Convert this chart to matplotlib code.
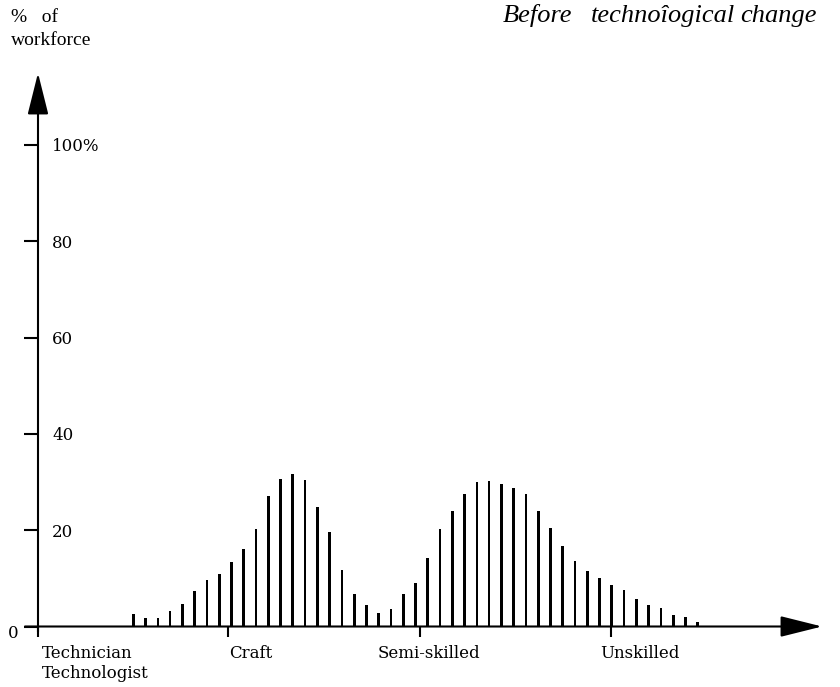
import matplotlib
matplotlib.use("Agg")
import matplotlib.pyplot as plt
import numpy as np

# share of workforce at each skill step, left (technician) to right (unskilled)
workforce_pct = [2.6, 1.7, 1.7, 3.3, 4.6, 7.3, 9.7, 10.8, 13.3, 16.0,
                 20.2, 27.0, 30.6, 31.6, 30.4, 24.9, 19.6, 11.8, 6.8, 4.4,
                 2.8, 3.6, 6.8, 9.1, 14.2, 20.2, 24.0, 27.5, 30.1, 30.2,
                 29.5, 28.8, 27.5, 24.0, 20.5, 16.8, 13.6, 11.5, 10.0, 8.6,
                 7.6, 5.8, 4.5, 3.8, 2.3, 1.9, 1.0]
skill_steps = np.arange(len(workforce_pct))

categories = ["Technician\nTechnologist", "Craft", "Semi-skilled", "Unskilled"]
category_ticks = [-7.77, 7.72, 23.4, 38.9]
y_ticks = [0, 20, 40, 60, 80, 100]
y_ticklabels = ["", "20", "40", "60", "80", "100%"]

W, H = 840, 687
fig = plt.figure(figsize=(W / 100, H / 100), dpi=100)
# axes box: y axis at x=38px, x axis at y=626.5px, arrow tips at 822px / 73px
ax = fig.add_axes([38 / W, (H - 626.5) / H, (822 - 38) / W, (626.5 - 73) / H])
ax.set_xlim(category_ticks[0], 56.13)
ax.set_ylim(0, 114.95)
for s in ax.spines.values():
    s.set_visible(False)

ax.bar(skill_steps, workforce_pct, width=0.22, color="black")

# axes with arrow heads
arrow = dict(arrowstyle="-|>,head_length=2.6,head_width=0.65", color="black",
             lw=1.5, shrinkA=0, shrinkB=0, mutation_scale=10)
ax.annotate("", xy=(1.0, 0), xytext=(-0.0166, 0),
            xycoords=("axes fraction", "data"), textcoords=("axes fraction", "data"),
            arrowprops=arrow, annotation_clip=False)
ax.annotate("", xy=(0, 1.0), xytext=(0, -0.0099),
            xycoords="axes fraction", textcoords="axes fraction",
            arrowprops=arrow, annotation_clip=False)

serif = "DejaVu Serif"
ax.set_yticks(y_ticks)
ax.set_yticklabels(y_ticklabels, fontsize=12, family=serif)
ax.tick_params(axis="y", direction="out", length=10, width=1.5, pad=-20.1)
for t in ax.get_yticklabels():
    t.set_horizontalalignment("left")
ax.annotate("0", xy=(0, 0), xycoords=("axes fraction", "data"),
            xytext=(-17.6, -4.7), textcoords="offset points",
            ha="center", va="center", fontsize=12, family=serif)

ax.set_xticks(category_ticks)
ax.set_xticklabels([""] * len(category_ticks))
ax.tick_params(axis="x", direction="out", length=7, width=1.5)

# label offsets (points) from each tick, as in the original
label_dx = [2.7, 0.7, 6.1, -7.4]
label_ha = ["left", "left", "center", "left"]
for x, lab, dx, ha in zip(category_ticks, categories, label_dx, label_ha):
    ax.annotate(lab, xy=(x, 0), xytext=(dx, -13.0), textcoords="offset points",
                ha=ha, va="top", fontsize=12, family=serif, linespacing=1.25,
                annotation_clip=False)

times = "Liberation Serif"
fig.text(11 / W, 1 - 22 / H, "%   of", fontsize=14, family=times, va="baseline")
fig.text(11 / W, 1 - 45 / H, "workforce", fontsize=14, family=times, va="baseline")

for word, px in zip(["Before", "technoîogical", "change"], [503, 591, 740]):
    fig.text(px / W, 1 - 22 / H, word, fontsize=19, family=times,
             style="italic", va="baseline")

fig.savefig("out.png", dpi=100)
